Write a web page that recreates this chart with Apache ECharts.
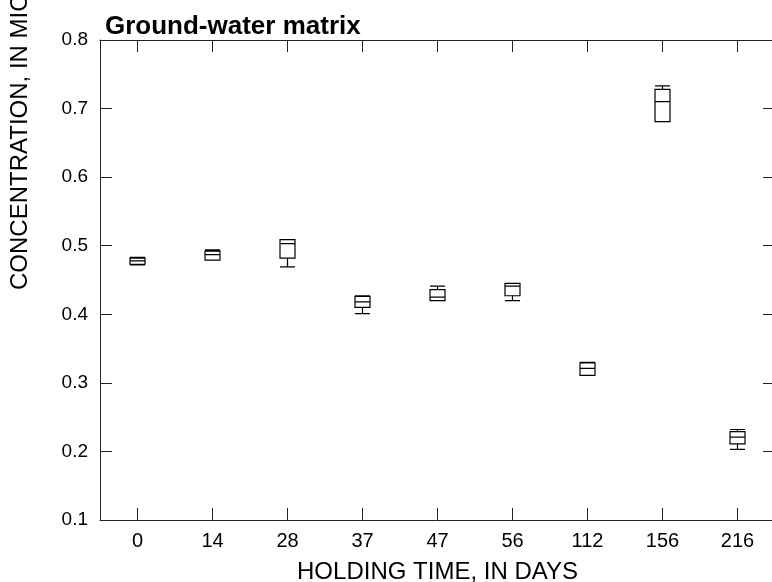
<!DOCTYPE html>
<html>
<head>
<meta charset="utf-8">
<script src="https://cdn.jsdelivr.net/npm/echarts@6/dist/echarts.min.js"></script>
<style>
  html, body { margin: 0; padding: 0; background: #fff; }
  #chart { width: 772px; height: 582px; }
</style>
</head>
<body>
<div id="chart"></div>
<script>
// holding time categories (days)
const days = ['0', '14', '28', '37', '47', '56', '112', '156', '216'];

// box statistics
const mins    = [0.472, 0.479, 0.469, 0.401, 0.420, 0.420, 0.311, 0.681, 0.203];
const q1s     = [0.473, 0.479, 0.482, 0.410, 0.420, 0.427, 0.311, 0.681, 0.211];
const medians = [0.478, 0.487, 0.503, 0.418, 0.425, 0.441, 0.321, 0.710, 0.221];
const q3s     = [0.482, 0.492, 0.509, 0.426, 0.436, 0.445, 0.329, 0.728, 0.229];
const maxes   = [0.483, 0.494, 0.509, 0.427, 0.441, 0.445, 0.330, 0.733, 0.232];

const yTicks = [0.1, 0.2, 0.3, 0.4, 0.5, 0.6, 0.7, 0.8];

const font = 'Liberation Sans, Arial, sans-serif';
const axisColor = '#222';

document.addEventListener('DOMContentLoaded', () => {
    const boxData = days.map((d, i) => [mins[i], q1s[i], medians[i], q3s[i], maxes[i]]);

    const chart = echarts.init(document.getElementById('chart'));

    const tick = { show: true, inside: true, length: 12, lineStyle: { color: axisColor, width: 1 } };

    const options = {
        animation: false,
        backgroundColor: '#fff',
        title: {
            text: 'Ground-water matrix',
            left: 105,
            top: 14,
            padding: 0,
            textStyle: { fontFamily: font, fontSize: 26, fontWeight: 'bold', color: '#000' }
        },
        grid: { left: 100, top: 40, width: 675, height: 480, containLabel: false, outerBoundsMode: 'none' },
        xAxis: [
            {
                type: 'category',
                data: days,
                position: 'bottom',
                name: 'HOLDING TIME, IN DAYS',
                nameLocation: 'middle',
                nameGap: 40,
                nameTextStyle: { fontFamily: font, fontSize: 24, color: '#000' },
                axisLine: { show: true, lineStyle: { color: axisColor, width: 1 } },
                axisTick: Object.assign({ alignWithLabel: true, interval: 0 }, tick),
                axisLabel: { fontFamily: font, fontSize: 20, color: '#000', margin: 11, interval: 0 },
                splitLine: { show: false }
            },
            {
                type: 'category',
                data: days,
                position: 'top',
                axisLine: { show: true, lineStyle: { color: axisColor, width: 1 } },
                axisTick: Object.assign({ alignWithLabel: true, interval: 0 }, tick),
                axisLabel: { show: false },
                splitLine: { show: false }
            }
        ],
        yAxis: [
            {
                type: 'value',
                min: yTicks[0],
                max: yTicks[yTicks.length - 1],
                interval: 0.1,
                position: 'left',
                axisLine: { show: true, lineStyle: { color: axisColor, width: 1 } },
                axisTick: tick,
                axisLabel: { fontFamily: font, fontSize: 19, color: '#000', margin: 12, formatter: v => v.toFixed(1) },
                splitLine: { show: false }
            },
            {
                type: 'value',
                min: yTicks[0],
                max: yTicks[yTicks.length - 1],
                interval: 0.1,
                position: 'right',
                axisLine: { show: true, lineStyle: { color: axisColor, width: 1 } },
                axisTick: tick,
                axisLabel: { show: false },
                splitLine: { show: false }
            }
        ],
        graphic: [
            {
                type: 'text',
                x: 20,
                y: 290,
                rotation: Math.PI / 2,
                style: {
                    text: 'CONCENTRATION, IN MICROGRAMS PER LITER',
                    font: '24px ' + font,
                    fill: '#000',
                    textAlign: 'left',
                    textVerticalAlign: 'middle'
                }
            }
        ],
        series: [
            {
                type: 'boxplot',
                xAxisIndex: 0,
                yAxisIndex: 0,
                data: boxData,
                boxWidth: [15, 15],
                itemStyle: { color: 'transparent', borderColor: '#000', borderWidth: 1.2 }
            }
        ]
    };

    chart.setOption(options);
});
</script>
</body>
</html>
